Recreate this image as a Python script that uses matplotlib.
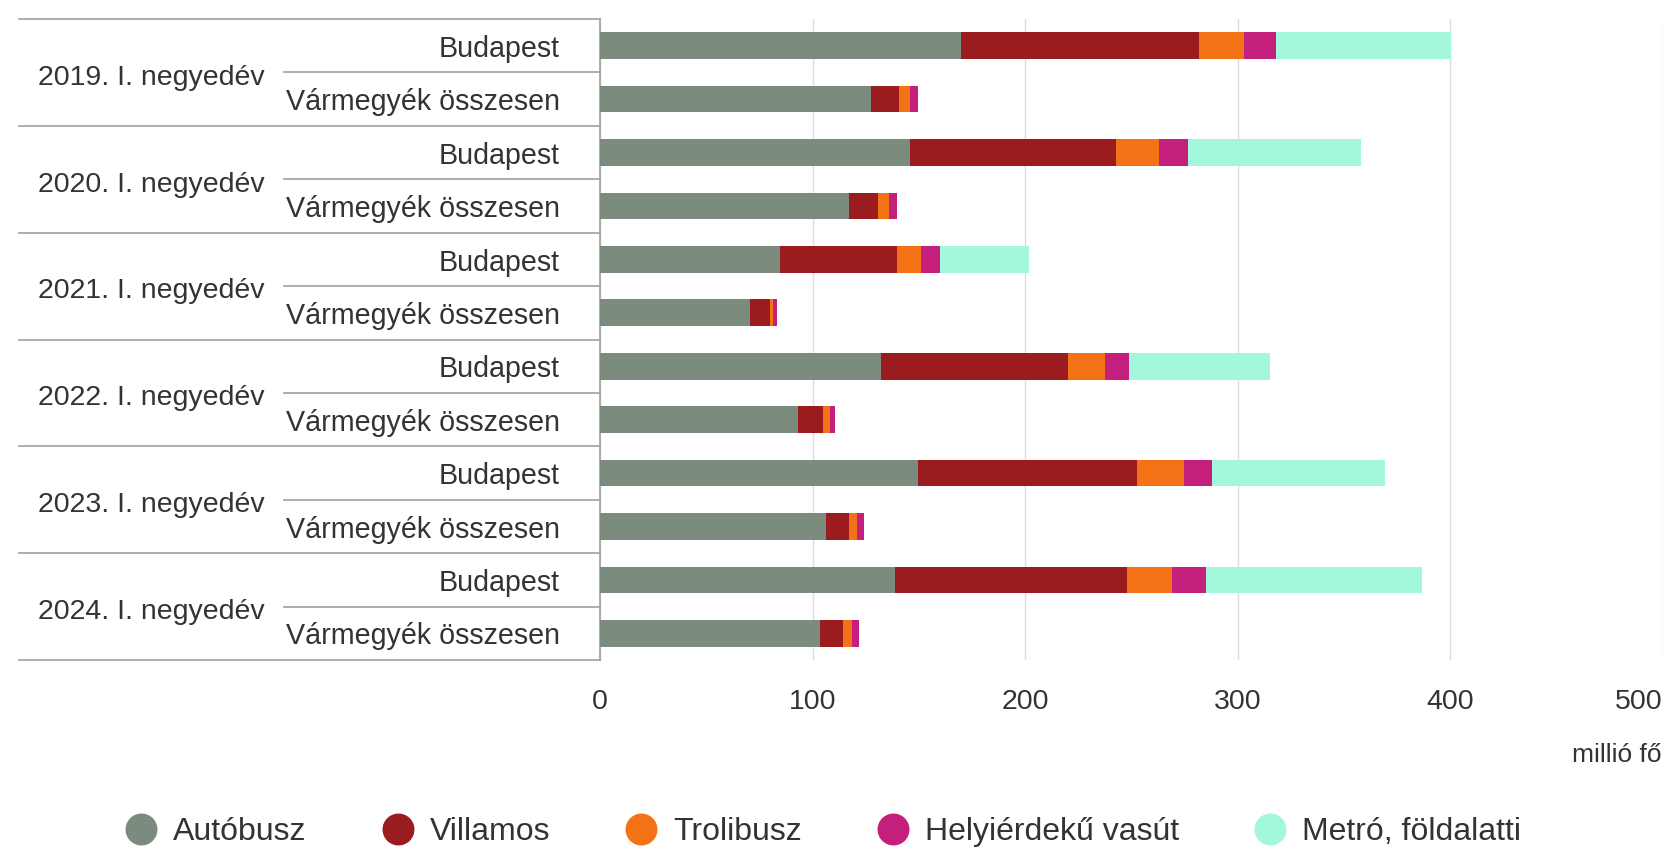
import numpy as np
import matplotlib
matplotlib.use('Agg')
import matplotlib.pyplot as plt
from matplotlib.lines import Line2D
from matplotlib.transforms import blended_transform_factory

# Adatok (millió fő), felülről lefelé
negyedevek = ['2019. I. negyedév', '2020. I. negyedév', '2021. I. negyedév',
              '2022. I. negyedév', '2023. I. negyedév', '2024. I. negyedév']
teruletek = ['Budapest', 'Vármegyék összesen']

autobusz = [169.8, 127.3, 146.0, 117.0, 84.5, 70.5, 132.0, 93.2, 149.7, 106.1, 138.6, 103.5]
villamos = [111.9, 13.4, 96.9, 13.7, 55.4, 9.5, 87.9, 11.6, 103.0, 10.9, 109.1, 10.8]
trolibusz = [21.4, 5.3, 19.8, 5.3, 11.1, 1.3, 17.7, 3.5, 21.9, 3.7, 21.3, 4.2]
hev = [15.1, 3.7, 13.7, 3.7, 8.7, 1.9, 11.1, 2.3, 13.2, 3.7, 16.1, 3.5]
metro = [82.3, 0, 81.4, 0, 42.3, 0, 66.3, 0, 81.3, 0, 101.7, 0]

sorozatok = ['Autóbusz', 'Villamos', 'Trolibusz', 'Helyiérdekű vasút', 'Metró, földalatti']
szinek = ['#7b8b7d', '#9b1c1f', '#f47216', '#c41f7d', '#a3f7dc']

W, H = 1663, 847
fig = plt.figure(figsize=(W / 100, H / 100), dpi=100)
ax = fig.add_axes([600 / W, 1 - 660 / H, 1063 / W, 641 / H])

font = 'Liberation Sans'
szurke = '#a0a0a0'
szoveg = '#333333'

y = np.arange(len(autobusz))
bal = np.zeros(len(y))
for ertekek, szin in zip([autobusz, villamos, trolibusz, hev, metro], szinek):
    ax.barh(y, ertekek, left=bal, height=0.5, color=szin, edgecolor='none', zorder=3)
    bal += np.array(ertekek)

ax.set_xlim(0, 500)
ax.set_ylim(len(y) - 0.5, -0.5)
ax.set_yticks([])
ax.set_xticks([0, 100, 200, 300, 400, 500])
ax.set_xticklabels(['0', '100', '200', '300', '400', '500'], family=font,
                   fontsize=20.5, color=szoveg)
ax.get_xticklabels()[-1].set_ha('right')
ax.tick_params(axis='x', length=0, pad=21)
ax.grid(axis='x', color='#dddddd', lw=1, zorder=0)
for s in ['top', 'right', 'bottom']:
    ax.spines[s].set_visible(False)
ax.spines['left'].set_color(szurke)
ax.spines['left'].set_linewidth(1.2)

# táblázat a bal oldalon
tr = blended_transform_factory(fig.transFigure, ax.transData)
for i in range(len(negyedevek) + 1):
    yy = 2 * i - 0.5
    ax.plot([19 / W, 600 / W], [yy, yy], transform=tr, color=szurke, lw=1.2, clip_on=False)
for i, nev in enumerate(negyedevek):
    yy = 2 * i + 0.5
    ax.plot([284 / W, 600 / W], [yy, yy], transform=tr, color=szurke, lw=1.2, clip_on=False)
    fig.text(38 / W, yy + 0.1, nev, transform=tr, ha='left', va='center', fontsize=20.5,
             family=font, color=szoveg)
    for j, t in enumerate(teruletek):
        fig.text(560 / W, 2 * i + j + 0.06, t, transform=tr, ha='right', va='center',
                 fontsize=20.6, family=font, color=szoveg)

fig.text(1572 / W, 1 - 755 / H, 'millió fő', ha='left', va='center', fontsize=19,
         family=font, color=szoveg)

handles = [Line2D([], [], marker='o', ls='none', markersize=22, color=c) for c in szinek]
leg = fig.legend(handles, sorozatok, loc='center', bbox_to_anchor=(823 / W, 1 - 832 / H),
                 ncol=5, frameon=False, handlelength=1.0, handletextpad=0.5,
                 columnspacing=2.35, prop={'family': font, 'size': 23})
for t in leg.get_texts():
    t.set_color(szoveg)

fig.savefig('out.png', dpi=100)
